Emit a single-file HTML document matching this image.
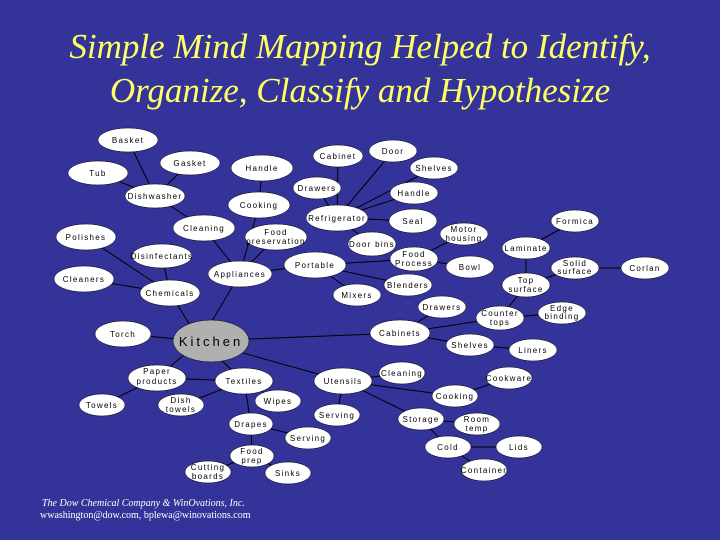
<!DOCTYPE html>
<html><head><meta charset="utf-8"><style>
html,body{margin:0;padding:0;background:#333399;}
svg{display:block}
</style></head><body>
<svg width="720" height="540" viewBox="0 0 720 540" xmlns="http://www.w3.org/2000/svg">
<rect width="720" height="540" fill="#333399"/>
<g font-family="Liberation Serif, serif" font-style="italic" fill="#ffff66" font-size="35" text-anchor="middle">
<text x="360" y="58">Simple Mind Mapping Helped to Identify,</text>
<text x="360" y="102">Organize, Classify and Hypothesize</text>
</g>
<g stroke="#000" stroke-width="1">
<line x1="128" y1="140" x2="155" y2="196"/><line x1="98" y1="173" x2="155" y2="196"/><line x1="190" y1="163" x2="155" y2="196"/>
<line x1="155" y1="196" x2="204" y2="228"/><line x1="204" y1="228" x2="240" y2="274"/>
<line x1="262" y1="168" x2="259" y2="205"/><line x1="259" y1="205" x2="240" y2="274"/>
<line x1="276" y1="237" x2="240" y2="274"/><line x1="240" y1="274" x2="315" y2="265"/><line x1="240" y1="274" x2="200" y2="341"/>
<line x1="86" y1="237" x2="170" y2="293"/><line x1="162" y1="256" x2="170" y2="293"/><line x1="84" y1="279" x2="170" y2="293"/><line x1="170" y1="293" x2="200" y2="341"/>
<line x1="337" y1="218" x2="338" y2="156"/><line x1="337" y1="218" x2="393" y2="151"/><line x1="337" y1="218" x2="434" y2="168"/><line x1="337" y1="218" x2="414" y2="193"/><line x1="337" y1="218" x2="413" y2="221"/><line x1="337" y1="218" x2="317" y2="188"/><line x1="337" y1="218" x2="372" y2="244"/>
<line x1="315" y1="265" x2="414" y2="259"/><line x1="315" y1="265" x2="408" y2="285"/><line x1="315" y1="265" x2="357" y2="295"/>
<line x1="414" y1="259" x2="464" y2="234"/><line x1="414" y1="259" x2="470" y2="267"/>
<line x1="200" y1="341" x2="400" y2="333"/><line x1="400" y1="333" x2="442" y2="307"/><line x1="400" y1="333" x2="500" y2="318"/><line x1="400" y1="333" x2="470" y2="345"/><line x1="470" y1="345" x2="533" y2="350"/>
<line x1="500" y1="318" x2="526" y2="285"/><line x1="500" y1="318" x2="562" y2="313"/><line x1="526" y1="285" x2="526" y2="248"/><line x1="526" y1="285" x2="575" y2="268"/><line x1="526" y1="248" x2="575" y2="221"/><line x1="575" y1="268" x2="645" y2="268"/>
<line x1="200" y1="341" x2="123" y2="334"/><line x1="200" y1="341" x2="157" y2="378"/><line x1="200" y1="341" x2="244" y2="381"/><line x1="200" y1="341" x2="343" y2="381"/>
<line x1="157" y1="378" x2="102" y2="405"/><line x1="157" y1="378" x2="244" y2="381"/><line x1="244" y1="381" x2="181" y2="405"/><line x1="244" y1="381" x2="278" y2="401"/><line x1="244" y1="381" x2="251" y2="424"/>
<line x1="251" y1="424" x2="308" y2="438"/><line x1="251" y1="424" x2="252" y2="456"/><line x1="252" y1="456" x2="208" y2="472"/><line x1="252" y1="456" x2="288" y2="473"/>
<line x1="343" y1="381" x2="402" y2="373"/><line x1="343" y1="381" x2="455" y2="396"/><line x1="455" y1="396" x2="509" y2="378"/><line x1="343" y1="381" x2="337" y2="415"/><line x1="343" y1="381" x2="421" y2="419"/>
<line x1="421" y1="419" x2="477" y2="424"/><line x1="421" y1="419" x2="448" y2="447"/><line x1="448" y1="447" x2="519" y2="447"/><line x1="448" y1="447" x2="484" y2="470"/>
</g>
<g fill="#fff" stroke="#000" stroke-width="0.5">
<ellipse cx="128" cy="140" rx="30" ry="12"/><ellipse cx="98" cy="173" rx="30" ry="12"/><ellipse cx="190" cy="163" rx="30" ry="12"/><ellipse cx="155" cy="196" rx="30" ry="12"/>
<ellipse cx="262" cy="168" rx="31" ry="13"/><ellipse cx="259" cy="205" rx="31" ry="13"/><ellipse cx="204" cy="228" rx="31" ry="13"/><ellipse cx="276" cy="237" rx="31" ry="13"/>
<ellipse cx="86" cy="237" rx="30" ry="13"/><ellipse cx="162" cy="256" rx="30" ry="12"/><ellipse cx="240" cy="274" rx="32" ry="13"/><ellipse cx="315" cy="265" rx="31" ry="13"/>
<ellipse cx="84" cy="279" rx="30" ry="13"/><ellipse cx="170" cy="293" rx="30" ry="13"/><ellipse cx="357" cy="295" rx="24" ry="11"/>
<ellipse cx="338" cy="156" rx="25" ry="11"/><ellipse cx="393" cy="151" rx="24" ry="11"/><ellipse cx="434" cy="168" rx="24" ry="11"/><ellipse cx="317" cy="188" rx="24" ry="11"/><ellipse cx="414" cy="193" rx="24" ry="11"/>
<ellipse cx="337" cy="218" rx="31" ry="13"/><ellipse cx="413" cy="221" rx="24" ry="12"/><ellipse cx="372" cy="244" rx="24" ry="12"/><ellipse cx="464" cy="234" rx="24" ry="11"/>
<ellipse cx="414" cy="259" rx="24" ry="12"/><ellipse cx="470" cy="267" rx="24" ry="11"/><ellipse cx="408" cy="285" rx="24" ry="11"/>
<ellipse cx="575" cy="221" rx="24" ry="11"/><ellipse cx="526" cy="248" rx="24" ry="11"/><ellipse cx="575" cy="268" rx="24" ry="11"/><ellipse cx="645" cy="268" rx="24" ry="11"/><ellipse cx="526" cy="285" rx="24" ry="12"/>
<ellipse cx="442" cy="307" rx="24" ry="11"/><ellipse cx="500" cy="318" rx="24" ry="12"/><ellipse cx="562" cy="313" rx="24" ry="11"/><ellipse cx="400" cy="333" rx="30" ry="13"/>
<ellipse cx="470" cy="345" rx="24" ry="11"/><ellipse cx="533" cy="350" rx="24" ry="11"/>
<ellipse cx="123" cy="334" rx="28" ry="13"/><ellipse cx="157" cy="378" rx="29" ry="13"/><ellipse cx="244" cy="381" rx="29" ry="13"/><ellipse cx="343" cy="381" rx="29" ry="13"/>
<ellipse cx="402" cy="373" rx="23" ry="11"/><ellipse cx="509" cy="378" rx="23" ry="11"/><ellipse cx="455" cy="396" rx="23" ry="11"/>
<ellipse cx="102" cy="405" rx="23" ry="11"/><ellipse cx="181" cy="405" rx="23" ry="11"/><ellipse cx="278" cy="401" rx="23" ry="11"/><ellipse cx="337" cy="415" rx="23" ry="11"/>
<ellipse cx="421" cy="419" rx="23" ry="11"/><ellipse cx="477" cy="424" rx="23" ry="11"/><ellipse cx="251" cy="424" rx="22" ry="11"/><ellipse cx="308" cy="438" rx="23" ry="11"/>
<ellipse cx="448" cy="447" rx="23" ry="11"/><ellipse cx="519" cy="447" rx="23" ry="11"/><ellipse cx="252" cy="456" rx="22" ry="11"/><ellipse cx="208" cy="472" rx="23" ry="11"/>
<ellipse cx="288" cy="473" rx="23" ry="11"/><ellipse cx="484" cy="470" rx="23" ry="11"/>
<ellipse cx="211" cy="341" rx="38" ry="21" fill="#b0b0b0"/>
</g>
<g font-family="Liberation Sans, sans-serif" font-size="8" letter-spacing="1.3" text-anchor="middle" fill="#000">
<text x="128" y="143">Basket</text><text x="98" y="176">Tub</text><text x="190" y="166">Gasket</text><text x="155" y="199">Dishwasher</text>
<text x="262" y="171">Handle</text><text x="259" y="208">Cooking</text><text x="204" y="231">Cleaning</text><text x="276" y="235">Food</text><text x="276" y="244">preservation</text>
<text x="86" y="240">Polishes</text><text x="162" y="259">Disinfectants</text><text x="240" y="277">Appliances</text><text x="315" y="268">Portable</text>
<text x="84" y="282">Cleaners</text><text x="170" y="296">Chemicals</text><text x="357" y="298">Mixers</text>
<text x="338" y="159">Cabinet</text><text x="393" y="154">Door</text><text x="434" y="171">Shelves</text><text x="317" y="191">Drawers</text><text x="414" y="196">Handle</text>
<text x="337" y="221">Refrigerator</text><text x="413" y="224">Seal</text><text x="372" y="247">Door bins</text><text x="464" y="232">Motor</text><text x="464" y="241">housing</text>
<text x="414" y="257">Food</text><text x="414" y="266">Process</text><text x="470" y="270">Bowl</text><text x="408" y="288">Blenders</text>
<text x="575" y="224">Formica</text><text x="526" y="251">Laminate</text><text x="575" y="266">Solid</text><text x="575" y="274">surface</text><text x="645" y="271">Corlan</text>
<text x="526" y="283">Top</text><text x="526" y="292">surface</text><text x="442" y="310">Drawers</text><text x="500" y="316">Counter</text><text x="500" y="325">tops</text>
<text x="562" y="311">Edge</text><text x="562" y="319">binding</text><text x="400" y="336">Cabinets</text><text x="470" y="348">Shelves</text><text x="533" y="353">Liners</text>
<text x="123" y="337">Torch</text><text x="157" y="374">Paper</text><text x="157" y="384">products</text><text x="244" y="384">Textiles</text><text x="343" y="384">Utensils</text>
<text x="402" y="376">Cleaning</text><text x="509" y="381">Cookware</text><text x="455" y="399">Cooking</text>
<text x="102" y="408">Towels</text><text x="181" y="403">Dish</text><text x="181" y="412">towels</text><text x="278" y="404">Wipes</text><text x="337" y="418">Serving</text>
<text x="421" y="422">Storage</text><text x="477" y="422">Room</text><text x="477" y="431">temp</text><text x="251" y="427">Drapes</text><text x="308" y="441">Serving</text>
<text x="448" y="450">Cold</text><text x="519" y="450">Lids</text><text x="252" y="454">Food</text><text x="252" y="463">prep</text><text x="208" y="470">Cutting</text><text x="208" y="479">boards</text>
<text x="288" y="476">Sinks</text><text x="484" y="473">Container</text>
<text x="211" y="346" font-size="13" letter-spacing="3">Kitchen</text>
</g>
<g font-family="Liberation Serif, serif" font-style="italic" fill="#fff" font-size="10">
<text x="42" y="506">The Dow Chemical Company &amp; WinOvations, Inc.</text>
<text x="40" y="518" font-style="normal">wwashington@dow.com, bplewa@winovations.com</text>
</g>
</svg>
</body></html>
